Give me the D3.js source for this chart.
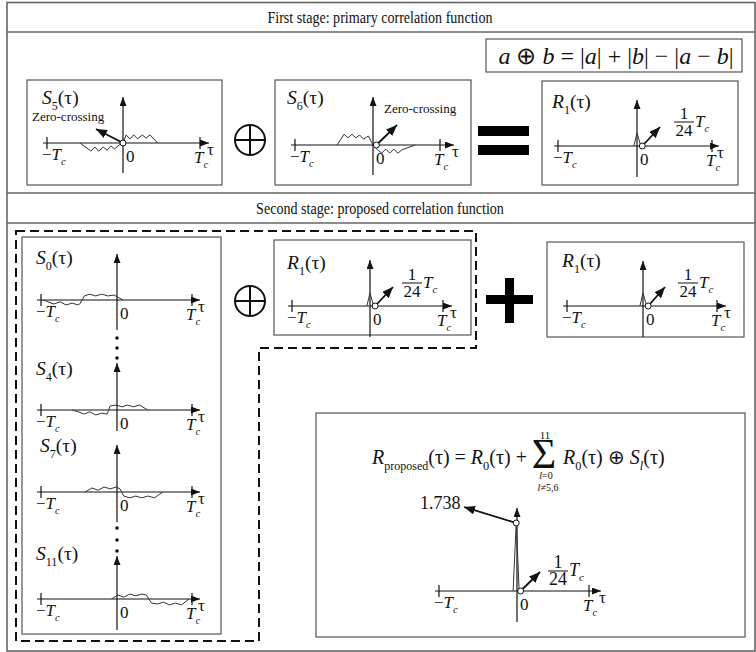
<!DOCTYPE html>
<html><head><meta charset="utf-8">
<script src="https://cdn.jsdelivr.net/npm/d3@7"></script>
<style>
body{margin:0;background:#fff}
svg{display:block}
text{font-family:"Liberation Serif","Times New Roman",serif;fill:#111}
.ax{stroke:#111;stroke-width:1.2;fill:none}
.wave{stroke:#333;stroke-width:1;fill:none}
.frame{stroke:#666;stroke-width:1.6;fill:none}
.box{stroke:#555;stroke-width:1.2;fill:none}
</style>
</head><body><script>
// ---------------- data ----------------
const stageTitles = ["First stage: primary correlation function", "Second stage: proposed correlation function"];
const tauDomain = [-1, 0, 1];              // -Tc, 0, Tc
const zeroCrossingLabel = "Zero-crossing";
const peakValue = 1.738;
const peakLabel = "1.738";
const fractionNum = "1", fractionDen = "24";
// waveform samples: [tau / Tc, amplitude]
const s5Wave = [[-0.566,0],[-0.42,-0.18],[-0.37,-0.09],[-0.32,-0.18],[-0.26,-0.09],[-0.21,-0.16],[-0.16,-0.07],[-0.11,-0.13],[-0.05,-0.04],[0,0],[0.04,0.18],[0.09,0.09],[0.14,0.18],[0.19,0.09],[0.25,0.18],[0.30,0.11],[0.35,0.18],[0.45,0]];
const s6Wave = [[-0.46,0],[-0.37,0.24],[-0.32,0.16],[-0.27,0.24],[-0.22,0.16],[-0.17,0.22],[-0.12,0.13],[-0.06,0.2],[0,0],[0.07,-0.11],[0.13,-0.18],[0.19,-0.09],[0.25,-0.18],[0.31,-0.09],[0.37,-0.18],[0.43,-0.11],[0.63,0]];
const s0Wave = [[-0.97,0],[-0.91,-0.04],[-0.83,-0.09],[-0.75,-0.04],[-0.67,-0.11],[-0.59,-0.07],[-0.51,-0.11],[-0.49,-0.09],[-0.43,0.09],[-0.36,0.13],[-0.28,0.09],[-0.2,0.13],[-0.12,0.09],[-0.04,0.11],[0.08,0]];
const s4Wave = [[-0.59,0],[-0.51,-0.04],[-0.43,-0.09],[-0.36,-0.04],[-0.28,-0.11],[-0.2,-0.07],[-0.13,-0.09],[-0.09,0.09],[-0.01,0.11],[0.07,0.07],[0.14,0.11],[0.22,0.07],[0.3,0.11],[0.41,0]];
const s7Wave = [[-0.42,0],[-0.33,0.09],[-0.25,0.04],[-0.17,0.11],[-0.09,0.07],[-0.01,0.11],[0.04,0.07],[0.09,-0.09],[0.17,-0.13],[0.25,-0.09],[0.33,-0.13],[0.41,-0.09],[0.5,-0.13],[0.61,0]];
const s11Wave = [[-0.07,0],[0.01,0.09],[0.09,0.04],[0.17,0.11],[0.25,0.07],[0.33,0.11],[0.39,0.09],[0.46,-0.09],[0.54,-0.11],[0.62,-0.07],[0.7,-0.13],[0.78,-0.09],[0.86,-0.13],[0.96,0]];
const r1Spike = [[-0.04,0],[0,0.29],[0.05,0]];
const rPropSpike = [[-0.05,0],[-0.01,peakValue],[0.03,0]];

// ---------------- setup ----------------
const W = 756, H = 652;
const svg = d3.select("body").append("svg").attr("width", W).attr("height", H);
const defs = svg.append("defs");
function marker(id, len, wid) {
  defs.append("marker").attr("id", id).attr("markerUnits", "userSpaceOnUse")
    .attr("viewBox", `0 0 ${len} ${wid}`).attr("markerWidth", len).attr("markerHeight", wid)
    .attr("refX", len).attr("refY", wid / 2).attr("orient", "auto")
    .append("path").attr("d", `M0,0L${len},${wid/2}L0,${wid}Z`).attr("fill", "#111");
}
marker("ah", 9, 7);
marker("ah2", 11, 9);

function mathText(g, x, y, parts, size, anchor) {
  const t = g.append("text").attr("x", x).attr("y", y).attr("font-size", size)
    .attr("text-anchor", anchor || "start");
  let shift = 0;
  parts.forEach(p => {
    const ts = t.append("tspan").text(p.t);
    const target = p.sub ? size * (p.subShift || 0.3) : (p.sup ? -size * 0.4 : 0);
    if (target !== shift) { ts.attr("dy", target - shift); shift = target; }
    if (p.i) ts.attr("font-style", "italic");
    if (p.sub || p.sup) ts.attr("font-size", size * (p.small || 0.62));
  });
  return t;
}
const TC = [{t: "T", i: 1}, {t: "c", i: 1, sub: 1}];
const MTC = [{t: "−"}].concat(TC);
const line = (xs, ys) => d3.line().x(d => xs(d[0])).y(d => ys(d[1]));

// ---------------- frame ----------------
svg.append("rect").attr("x", 7).attr("y", 2.5).attr("width", 748).attr("height", 648.5).attr("class", "frame");
[32, 193, 223].forEach(y => svg.append("line").attr("x1", 7).attr("x2", 755).attr("y1", y).attr("y2", y).attr("class", "frame"));
svg.append("text").attr("transform", "translate(380,23) scale(0.88,1)").attr("font-size", 16).attr("text-anchor", "middle").text(stageTitles[0]);
svg.append("text").attr("transform", "translate(380,214) scale(0.88,1)").attr("font-size", 16).attr("text-anchor", "middle").text(stageTitles[1]);

// ---------------- panel helper ----------------
function drawPanel(p) {
  const g = svg.append("g");
  if (p.box) g.append("rect").attr("x", p.box[0]).attr("y", p.box[1]).attr("width", p.box[2]).attr("height", p.box[3]).attr("class", "box");
  const xs = d3.scaleLinear().domain(tauDomain).range(p.xr);
  const ys = p.ys || d3.scaleLinear().domain([-1, 1]).range([p.ay + 45, p.ay - 45]);
  g.append("line").attr("x1", xs(-1) - 4).attr("x2", p.ae).attr("y1", p.ay).attr("y2", p.ay)
    .attr("class", "ax").attr("marker-end", "url(#ah)");
  [-1, 1].forEach(t => g.append("line").attr("x1", xs(t)).attr("x2", xs(t))
    .attr("y1", p.ay - 6).attr("y2", p.ay + 6).attr("class", "ax"));
  g.append("line").attr("x1", xs(0)).attr("x2", xs(0)).attr("y1", p.vb).attr("y2", p.vt)
    .attr("class", "ax").attr("marker-end", "url(#ah)");
  mathText(g, xs(-1) - 5, p.ay + 17, MTC, 17);
  g.append("text").attr("x", xs(0) + 3).attr("y", p.ay + 19).attr("font-size", 17).text("0");
  mathText(g, xs(1) - 6, p.ay + 20, TC, 17);
  g.append("text").attr("x", p.ae - 2).attr("y", p.ay + 12).attr("font-size", 17).text("τ");
  if (p.label) mathText(g, p.label[0], p.label[1], [{t: p.label[2], i: 1}, {t: p.label[3], sub: 1}, {t: "(τ)"}], 19.5);
  if (p.wave) g.append("path").attr("d", line(xs, ys)(p.wave)).attr("class", "wave");
  return {g, xs, ys};
}
function zeroCross(g, cx, cy, tx, ty, lx, ly, anchor) {
  g.append("line").attr("x1", cx).attr("y1", cy).attr("x2", tx).attr("y2", ty)
    .attr("stroke", "#111").attr("stroke-width", 1.8).attr("marker-end", "url(#ah2)");
  g.append("circle").attr("cx", cx).attr("cy", cy).attr("r", 3).attr("fill", "#fff").attr("stroke", "#111").attr("stroke-width", 1);
  g.append("text").attr("x", lx).attr("y", ly).attr("font-size", 13).attr("text-anchor", anchor || "start").text(zeroCrossingLabel);
}
function fracLabel(g, x, y, size) {
  const fs = size || 17;
  g.append("text").attr("x", x + 10).attr("y", y - 3).attr("font-size", fs).attr("text-anchor", "middle").text(fractionNum);
  g.append("line").attr("x1", x).attr("x2", x + 20).attr("y1", y).attr("y2", y).attr("stroke", "#111").attr("stroke-width", 1);
  g.append("text").attr("x", x + 10).attr("y", y + fs * 0.8).attr("font-size", fs).attr("text-anchor", "middle").text(fractionDen);
  mathText(g, x + 21, y + 5, TC, fs);
}
function r1Marks(pp, ax, ay, fx, fy) {
  const {g, xs, ys} = pp;
  g.append("path").attr("d", line(xs, ys)(r1Spike)).attr("class", "wave");
  const cx = xs(0.07), cy = ys(0);
  g.append("line").attr("x1", cx).attr("y1", cy).attr("x2", ax).attr("y2", ay)
    .attr("stroke", "#111").attr("stroke-width", 1.8).attr("marker-end", "url(#ah2)");
  g.append("circle").attr("cx", cx).attr("cy", cy).attr("r", 3).attr("fill", "#fff").attr("stroke", "#111");
  fracLabel(g, fx, fy);
}
function oplus(cx, cy, r) {
  const g = svg.append("g").attr("stroke", "#111").attr("stroke-width", 2).attr("fill", "none");
  g.append("circle").attr("cx", cx).attr("cy", cy).attr("r", r);
  g.append("line").attr("x1", cx - r).attr("x2", cx + r).attr("y1", cy).attr("y2", cy);
  g.append("line").attr("x1", cx).attr("x2", cx).attr("y1", cy - r).attr("y2", cy + r);
}

// ---------------- first stage ----------------
const p5 = drawPanel({box: [27, 80, 195, 105], xr: [47, 123, 200], ay: 143, ae: 209, vt: 97, vb: 173, label: [42, 104, "S", "5"], wave: s5Wave});
zeroCross(p5.g, p5.xs(0), p5.ys(0), 96, 129, 32, 121);
oplus(250, 140, 15);
const p6 = drawPanel({box: [275, 80, 196, 105], xr: [295, 373, 440], ay: 145, ae: 454, vt: 97, vb: 175, label: [287, 104, "S", "6"], wave: s6Wave});
zeroCross(p6.g, p6.xs(0.05), p6.ys(0), 397, 125, 384, 113);
// equals
svg.append("rect").attr("x", 478).attr("y", 126).attr("width", 51).attr("height", 10).attr("fill", "#000");
svg.append("rect").attr("x", 478).attr("y", 145).attr("width", 51).attr("height", 10).attr("fill", "#000");
// formula box
svg.append("rect").attr("x", 486).attr("y", 39).attr("width", 256).attr("height", 33).attr("class", "box");
mathText(svg, 616, 64, [{t: "a", i: 1}, {t: " ⊕ "}, {t: "b", i: 1}, {t: " = |"}, {t: "a", i: 1}, {t: "| + |"}, {t: "b", i: 1}, {t: "| − |"}, {t: "a", i: 1}, {t: " − "}, {t: "b", i: 1}, {t: "|"}], 24, "middle");
const pr1 = drawPanel({box: [542, 81, 196, 104], xr: [558, 637, 712], ay: 146, ae: 719, vt: 100, vb: 177, label: [552, 108, "R", "1"]});
r1Marks(pr1, 660, 127, 674, 122);

// ---------------- second stage ----------------
svg.append("path").attr("d", "M16,231H476V348H259V641H16Z").attr("fill", "none").attr("stroke", "#111")
  .attr("stroke-width", 2).attr("stroke-dasharray", "9,5");
svg.append("rect").attr("x", 22).attr("y", 237).attr("width", 199).attr("height", 397).attr("class", "box");
const stackX = [41, 117, 192];
drawPanel({xr: stackX, ay: 300, ae: 200, vt: 254, vb: 330, label: [36, 264, "S", "0"], wave: s0Wave});
drawPanel({xr: stackX, ay: 410, ae: 200, vt: 363, vb: 431, label: [36, 375, "S", "4"], wave: s4Wave});
drawPanel({xr: stackX, ay: 492, ae: 200, vt: 445, vb: 522, label: [40, 452, "S", "7"], wave: s7Wave});
drawPanel({xr: stackX, ay: 599, ae: 200, vt: 556, vb: 630, label: [36, 560, "S", "11"], wave: s11Wave});
[338, 348, 358, 528, 540, 551].forEach(y => svg.append("circle").attr("cx", 117).attr("cy", y).attr("r", 1.8).attr("fill", "#111"));

oplus(250, 301, 15);
const pm = drawPanel({box: [274, 240, 197, 95], xr: [292, 370, 443], ay: 306, ae: 452, vt: 260, vb: 337, label: [287, 269, "R", "1"]});
r1Marks(pm, 393, 287, 402, 283);
// plus
svg.append("rect").attr("x", 486).attr("y", 295).attr("width", 47).attr("height", 9).attr("fill", "#000");
svg.append("rect").attr("x", 505).attr("y", 278).attr("width", 9).attr("height", 45).attr("fill", "#000");
const pr = drawPanel({box: [547, 242, 197, 95], xr: [567, 643, 717], ay: 306, ae: 726, vt: 261, vb: 337, label: [562, 267, "R", "1"]});
r1Marks(pr, 665, 287, 678, 283);

// ---------------- proposed ----------------
svg.append("rect").attr("x", 316).attr("y", 413).attr("width", 429).attr("height", 224).attr("class", "box");
const pp = drawPanel({xr: [439, 517, 589], ay: 591, ae: 601, vt: 508, vb: 622,
  ys: d3.scaleLinear().domain([0, peakValue]).range([591, 523])});
pp.g.append("path").attr("d", line(pp.xs, pp.ys)(rPropSpike)).attr("class", "wave").attr("stroke-width", 1.3);
{
  const px = pp.xs(rPropSpike[1][0]), py = pp.ys(peakValue);
  pp.g.append("line").attr("x1", px).attr("y1", py).attr("x2", 464).attr("y2", 507)
    .attr("stroke", "#111").attr("stroke-width", 1.8).attr("marker-end", "url(#ah2)");
  pp.g.append("circle").attr("cx", px).attr("cy", py).attr("r", 3).attr("fill", "#fff").attr("stroke", "#111");
  pp.g.append("text").attr("x", 420).attr("y", 509).attr("font-size", 18).text(peakLabel);
  const cx = pp.xs(0.05), cy = pp.ys(0);
  pp.g.append("line").attr("x1", cx).attr("y1", cy).attr("x2", 540).attr("y2", 572)
    .attr("stroke", "#111").attr("stroke-width", 1.8).attr("marker-end", "url(#ah2)");
  pp.g.append("circle").attr("cx", cx).attr("cy", cy).attr("r", 3).attr("fill", "#fff").attr("stroke", "#111");
  fracLabel(pp.g, 548, 571, 18);
}
// formula
mathText(svg, 372, 464, [{t: "R", i: 1}, {t: "proposed", sub: 1, small: 0.6}, {t: "(τ) = "}, {t: "R", i: 1}, {t: "0", sub: 1}, {t: "(τ) + "}], 20);
svg.append("text").attr("x", 544).attr("y", 468).attr("font-size", 42).attr("text-anchor", "middle").text("Σ");
svg.append("text").attr("x", 545).attr("y", 439).attr("font-size", 11).attr("text-anchor", "middle").text("11");
mathText(svg, 546, 479, [{t: "l", i: 1}, {t: "=0"}], 10, "middle");
mathText(svg, 548, 491, [{t: "l", i: 1}, {t: "≠5,6"}], 10, "middle");
mathText(svg, 563, 464, [{t: "R", i: 1}, {t: "0", sub: 1}, {t: "(τ) ⊕ "}, {t: "S", i: 1}, {t: "l", i: 1, sub: 1}, {t: "(τ)"}], 20);
</script></body></html>
